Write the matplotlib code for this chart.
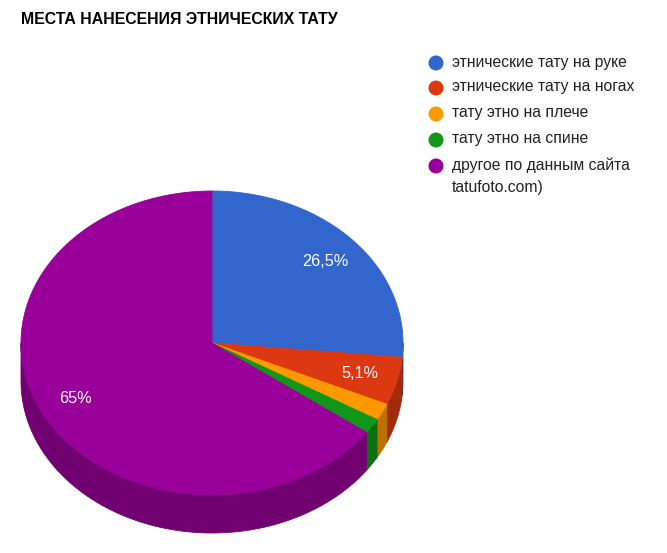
import numpy as np
import matplotlib
matplotlib.use('Agg')
import matplotlib.pyplot as plt
from matplotlib.patches import Polygon, Circle
from matplotlib.colors import to_rgb

plt.rcParams['font.family'] = ['Liberation Sans', 'DejaVu Sans']

# Данные
title = 'МЕСТА НАНЕСЕНИЯ ЭТНИЧЕСКИХ ТАТУ'
labels = ['этнические тату на руке', 'этнические тату на ногах', 'тату этно на плече',
          'тату этно на спине', 'другое по данным сайта\ntatufoto.com)']
values = [26.5, 5.1, 1.8, 1.6, 65.0]
colors = ['#3366cc', '#dc3912', '#ff9900', '#109618', '#990099']

# геометрия "3D" пирога в пикселях
cx, cy = 212, 343
rx, ry = 191, 152
depth = 38

fig = plt.figure(figsize=(6.67, 5.53), dpi=100)
ax = fig.add_axes([0, 0, 1, 1])
ax.set_xlim(0, 667)
ax.set_ylim(553, 0)
ax.axis('off')


def arc(a0, a1, n=200):
    t = np.radians(np.linspace(a0, a1, n))
    return cx + rx * np.sin(t), cy - ry * np.cos(t)


def darker(c, k=0.74):
    r, g, b = to_rgb(c)
    return (r * k, g * k, b * k)


total = sum(values)
angles = np.concatenate([[0], np.cumsum(values) / total * 360])

# боковые стенки (видимы от 90 до 270 градусов)
for i, col in enumerate(colors):
    a0 = max(angles[i], 90)
    a1 = min(angles[i + 1], 270)
    if a1 <= a0:
        continue
    x, y = arc(a0, a1)
    pts = np.column_stack([np.concatenate([x, x[::-1]]),
                           np.concatenate([y, (y + depth)[::-1]])])
    ax.add_patch(Polygon(pts, closed=True, facecolor=darker(col),
                         edgecolor=darker(col), linewidth=0.6))

# верхняя грань
for i, col in enumerate(colors):
    x, y = arc(angles[i], angles[i + 1])
    pts = np.column_stack([np.concatenate([[cx], x]), np.concatenate([[cy], y])])
    ax.add_patch(Polygon(pts, closed=True, facecolor=col, edgecolor=col, linewidth=0.6))

# подписи процентов
for i, v in enumerate(values):
    if v < 5:
        continue
    mid = np.radians((angles[i] + angles[i + 1]) / 2)
    lx = cx + 0.8 * rx * np.sin(mid)
    ly = cy - 0.8 * ry * np.cos(mid)
    txt = f'{v:g}'.replace('.', ',') + '%'
    ax.text(lx, ly, txt, color='white', fontsize=11.7, ha='center', va='center')

# заголовок
ax.text(21, 20, title, fontsize=11.4, fontweight='bold', color='#000000',
        ha='left', va='center')

# легенда
ly0 = 63
steps = [0, 25, 51, 77, 103]
for i, (lab, col) in enumerate(zip(labels, colors)):
    yy = ly0 + steps[i]
    ax.add_patch(Circle((436, yy), 7.5, facecolor=col, edgecolor='none'))
    ax.text(452, yy - 8.5, lab, fontsize=11.3, color='#222222', ha='left', va='top',
            linespacing=1.6)

fig.savefig('out.png', dpi=100)
